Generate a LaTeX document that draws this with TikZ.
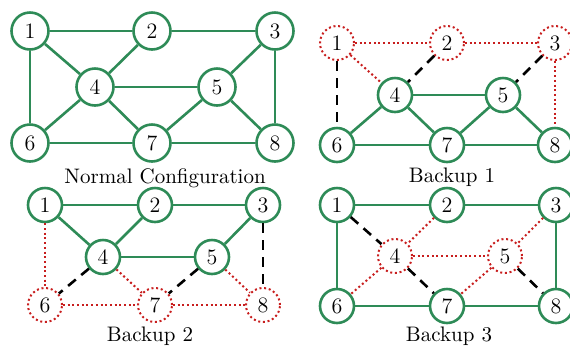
\documentclass[tikz,border=0pt]{standalone}
\definecolor{gr}{RGB}{46,139,87}
\definecolor{rd}{RGB}{200,30,30}
\tikzset{
  x=0.5pt, y=-0.5pt,
  nbase/.style={circle, inner sep=0pt, font=\fontsize{11}{12}\selectfont},
  okn/.style={nbase, draw=gr, line width=1.3pt},
  badn/.style={nbase, draw=rd, line width=1pt, dash pattern=on 1pt off 1.35pt},
  big/.style={minimum size=18.5pt},
  small/.style={minimum size=17pt},
  ok/.style={draw=gr, line width=1.3pt},
  bad/.style={draw=rd, line width=1pt, dash pattern=on 1pt off 1.35pt},
  alt/.style={draw=black, line width=1.3pt, dash pattern=on 5pt off 3.5pt},
  captext/.style={anchor=base, font=\fontsize{10.5}{12}\selectfont}
}
\begin{document}
\begin{tikzpicture}
\useasboundingbox (0,0) rectangle (570,345);
% ---------- Normal configuration
\node[okn,big] (a1) at (30,31) {1};
\node[okn,big] (a2) at (152,31) {2};
\node[okn,big] (a3) at (275,31) {3};
\node[okn,big] (a4) at (95,87) {4};
\node[okn,big] (a5) at (217,87) {5};
\node[okn,big] (a6) at (30,143) {6};
\node[okn,big] (a7) at (152,143) {7};
\node[okn,big] (a8) at (275,143) {8};
\foreach \u/\v in {1/2,2/3,1/4,2/4,1/6,4/5,3/5,3/8,4/6,4/7,5/7,5/8,6/7,7/8}
  \draw[ok] (a\u) -- (a\v);
\node[captext] (la) at (165,183) {Normal Configuration};
% ---------- Backup 1
\node[badn,small] (b1) at (337,43) {1};
\node[badn,small] (b2) at (447,43) {2};
\node[badn,small] (b3) at (555,43) {3};
\node[okn,small] (b4) at (395,95) {4};
\node[okn,small] (b5) at (503,95) {5};
\node[okn,small] (b6) at (337,145) {6};
\node[okn,small] (b7) at (447,145) {7};
\node[okn,small] (b8) at (555,145) {8};
\foreach \u/\v in {4/5,4/6,4/7,5/7,5/8,6/7,7/8}
  \draw[ok] (b\u) -- (b\v);
\foreach \u/\v in {1/2,2/3,1/4,3/8}
  \draw[bad] (b\u) -- (b\v);
\foreach \u/\v in {1/6,2/4,3/5}
  \draw[alt] (b\u) -- (b\v);
\node[captext] (lb) at (452,182) {Backup 1};
% ---------- Backup 2
\node[okn,small] (c1) at (45,205) {1};
\node[okn,small] (c2) at (155,205) {2};
\node[okn,small] (c3) at (263,205) {3};
\node[okn,small] (c4) at (103,257) {4};
\node[okn,small] (c5) at (212,257) {5};
\node[badn,small] (c6) at (45,305) {6};
\node[badn,small] (c7) at (155,305) {7};
\node[badn,small] (c8) at (263,305) {8};
\foreach \u/\v in {1/2,2/3,1/4,2/4,4/5,3/5}
  \draw[ok] (c\u) -- (c\v);
\foreach \u/\v in {1/6,4/7,5/8,6/7,7/8}
  \draw[bad] (c\u) -- (c\v);
\foreach \u/\v in {4/6,5/7,3/8}
  \draw[alt] (c\u) -- (c\v);
\node[captext] (lc) at (150,341) {Backup 2};
% ---------- Backup 3
\node[okn,small] (d1) at (337,205) {1};
\node[okn,small] (d2) at (447,205) {2};
\node[okn,small] (d3) at (556,205) {3};
\node[badn,small] (d4) at (395,256) {4};
\node[badn,small] (d5) at (505,256) {5};
\node[okn,small] (d6) at (337,306) {6};
\node[okn,small] (d7) at (447,306) {7};
\node[okn,small] (d8) at (556,306) {8};
\foreach \u/\v in {1/2,2/3,1/6,3/8,6/7,7/8}
  \draw[ok] (d\u) -- (d\v);
\foreach \u/\v in {2/4,4/6,4/5,3/5,5/7}
  \draw[bad] (d\u) -- (d\v);
\foreach \u/\v in {1/4,4/7,5/8}
  \draw[alt] (d\u) -- (d\v);
\node[captext] (ld) at (449,341) {Backup 3};
\end{tikzpicture}
\end{document}
